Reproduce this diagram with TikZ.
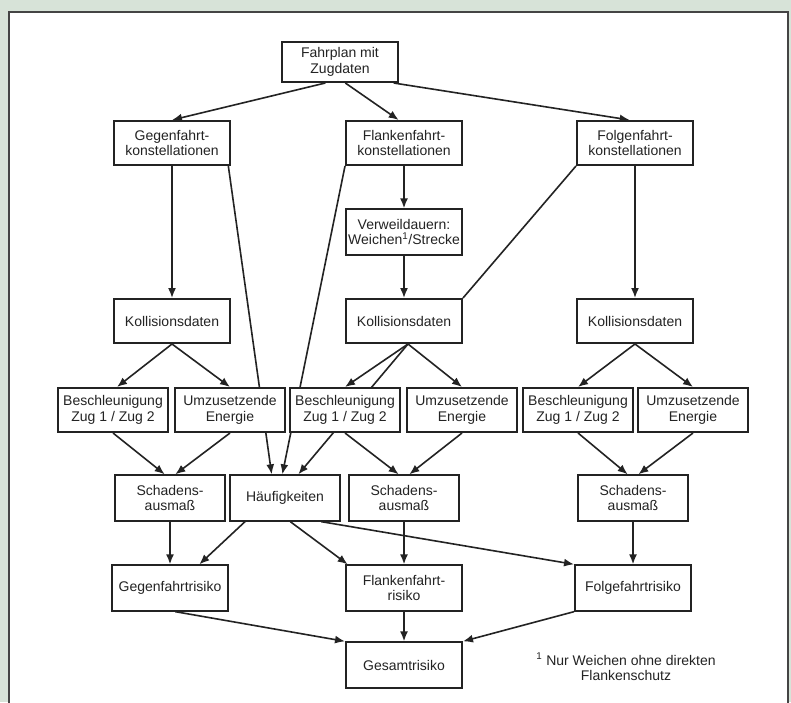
\documentclass[tikz,border=0pt]{standalone}
\usepackage{fontspec}
\setmainfont{Liberation Sans}
\usetikzlibrary{arrows.meta,backgrounds}

\definecolor{sage}{RGB}{215,227,216}
\definecolor{ink}{RGB}{35,35,35}

\begin{document}
\begin{tikzpicture}[x = 0.75pt, y = -0.75pt, line width = 1.2pt, color = ink,
                    >={Latex[length = 7.5pt, width = 6pt]},
                    box/.style = {rectangle, draw, fill = white, line width = 1.5pt,
                                  minimum width = 83pt, minimum height = 33pt, align = center,
                                  inner sep = 1pt, font = \fontsize{10.5}{11.5}\selectfont},
                    wide/.style = {box, minimum width = 87pt},
                    links/.style = {line width = 1.2pt, color = ink}]
  \useasboundingbox (0, 0) rectangle (791, 702);

  \node [wide, minimum height = 30pt] (P) at (340, 62) {Fahrplan mit\\Zugdaten};
  \node [wide] (K1) at (172, 143) {Gegenfahrt-\\konstellationen};
  \node [wide] (K2) at (404, 143) {Flankenfahrt-\\konstellationen};
  \node [wide] (K3) at (635, 143) {Folgenfahrt-\\konstellationen};
  \node [wide, minimum height = 34pt] (V2) at (404, 232) {Verweildauern:\\Weichen\textsuperscript{1}/Strecke};

  \node [wide] (D1) at (172, 321) {Kollisionsdaten};
  \node [wide] (D2) at (404, 321) {Kollisionsdaten};
  \node [wide] (D3) at (635, 321) {Kollisionsdaten};

  \node [box] (B1) at (113, 410) {Beschleunigung\\Zug 1 / Zug 2};
  \node [box] (E1) at (230, 410) {Umzusetzende\\Energie};
  \node [box] (B2) at (345, 410) {Beschleunigung\\Zug 1 / Zug 2};
  \node [box] (E2) at (462, 410) {Umzusetzende\\Energie};
  \node [box] (B3) at (578, 410) {Beschleunigung\\Zug 1 / Zug 2};
  \node [box] (E3) at (693, 410) {Umzusetzende\\Energie};

  \node [box, minimum height = 34pt] (S1) at (170, 498) {Schadens-\\ausmaß};
  \node [box, minimum height = 34pt] (H) at (285, 498) {Häufigkeiten};
  \node [box, minimum height = 34pt] (S2) at (404, 498) {Schadens-\\ausmaß};
  \node [box, minimum height = 34pt] (S3) at (633, 498) {Schadens-\\ausmaß};

  \node [wide, minimum height = 34pt] (R1) at (170, 588) {Gegenfahrtrisiko};
  \node [wide, minimum height = 34pt] (R2) at (404, 588) {Flankenfahrt-\\risiko};
  \node [wide, minimum height = 34pt] (R3) at (633, 588) {Folgefahrtrisiko};
  \node [wide, minimum height = 34pt] (G) at (404, 665) {Gesamtrisiko};

  \node [align = center, font = \fontsize{10.5}{11.5}\selectfont] (N) at (626, 667)
        {\textsuperscript{1} Nur Weichen ohne direkten\\Flankenschutz};

  \begin{pgfonlayer}{background}
    \fill [sage] (0, 0) rectangle (791, 702);
    \filldraw [fill = white, draw = ink!85, line width = 1pt] (9, 705) -- (9, 12) -- (788, 12) -- (788, 705);

    \begin{scope}[links]
    \draw [->] ([xshift = -11pt]P.south) -- (K1.north);
    \draw [->] ([xshift = 4pt]P.south) -- ([xshift = -4pt]K2.north);
    \draw [->] ([xshift = -4pt]P.south east) -- ([xshift = -4pt]K3.north);

    \draw [->] (K1.south) -- (D1.north);
    \draw [->] ([xshift = -2pt]K1.south east) -- ([xshift = -10pt]H.north);
    \draw [->] (K2.south west) -- ([xshift = -2pt]H.north);
    \draw [->] (K2.south) -- (V2.north);
    \draw [->] (V2.south) -- (D2.north);
    \draw (K3.south west) -- (D2.north east);
    \draw [->] (K3.south) -- (D3.north);

    \draw [->] (D1.south) -- ([xshift = 3pt]B1.north);
    \draw [->] (D1.south) -- (E1.north);
    \draw [->] ([xshift = 3pt]D2.south) -- (B2.north);
    \draw [->] ([xshift = 3pt]D2.south) -- (E2.north);
    \draw [->] ([xshift = 3pt]D2.south) -- ([xshift = 10pt]H.north);
    \draw [->] (D3.south) -- (B3.north);
    \draw [->] (D3.south) -- (E3.north);

    \draw [->] (B1.south) -- ([xshift = -4pt]S1.north);
    \draw [->] (E1.south) -- ([xshift = 4pt]S1.north);
    \draw [->] (B2.south) -- ([xshift = -4pt]S2.north);
    \draw [->] (E2.south) -- ([xshift = 4pt]S2.north);
    \draw [->] (B3.south) -- ([xshift = -4pt]S3.north);
    \draw [->] (E3.south) -- ([xshift = 4pt]S3.north);

    \draw [->] (S1.south) -- (R1.north);
    \draw [->] ([xshift = -30pt]H.south) -- ([xshift = 22pt]R1.north);
    \draw [->] ([xshift = 4pt]H.south) -- ([xshift = 2pt]R2.north west);
    \draw [->] ([xshift = -15pt]H.south east) -- (R3.north west);
    \draw [->] (S2.south) -- (R2.north);
    \draw [->] (S3.south) -- (R3.north);

    \draw [->] ([xshift = 4pt]R1.south) -- (G.north west);
    \draw [->] (R2.south) -- (G.north);
    \draw [->] (R3.south west) -- (G.north east);
    \end{scope}
  \end{pgfonlayer}
\end{tikzpicture}
\end{document}
